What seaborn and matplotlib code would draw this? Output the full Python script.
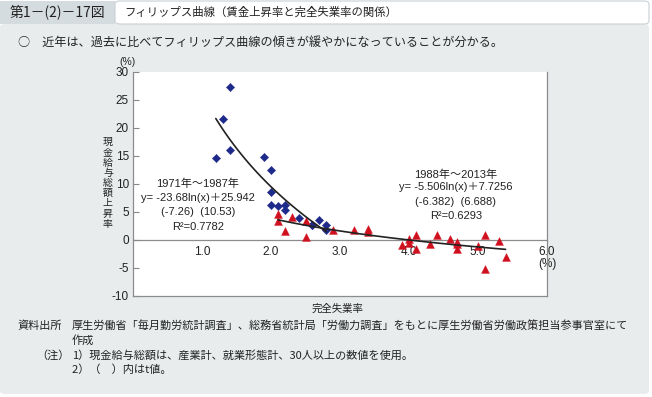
import numpy as np
import pandas as pd
import matplotlib
matplotlib.use("Agg")
import matplotlib.pyplot as plt
from matplotlib.patches import Rectangle, FancyBboxPatch
import seaborn as sns

# 1971年～1987年 : unemployment rate (%) / wage growth (%)
unemp_early = [1.2, 1.4, 1.3, 1.4, 1.9, 2.0, 2.0, 2.2, 2.1, 2.0, 2.2, 2.4, 2.6, 2.7, 2.6, 2.8, 2.8]
wage_early = [14.6, 16.0, 21.6, 27.3, 14.9, 12.5, 8.5, 6.3, 6.0, 6.3, 5.3, 4.0, 2.7, 3.6, 2.6, 2.7, 1.8]

# 1988年～2013年
unemp_late = [2.5, 2.3, 2.1, 2.1, 2.2, 2.5, 2.9, 3.2, 3.4, 3.4, 4.1, 4.7, 4.7,
              5.0, 5.4, 5.3, 4.7, 4.4, 4.1, 3.9, 4.0, 5.1, 5.1, 4.6, 4.3, 4.0]
wage_late = [3.45, 4.17, 4.7, 3.45, 1.66, 0.47, 1.7, 1.8, 2.0, 1.5, 0.95, -0.37, -0.8,
             -1.0, -3.1, -0.25, -1.56, 0.95, -1.56, -0.95, 0.17, 0.95, -5.1, 0.1, -0.66, -0.5]

x_ticks = [1.0, 2.0, 3.0, 4.0, 5.0, 6.0]
x_tick_labels = ["1.0", "2.0", "3.0", "4.0", "5.0", "6.0\n(%)"]
y_ticks = [-10, -5, 0, 5, 10, 15, 20, 25, 30]

early = pd.DataFrame({"unemp": unemp_early, "wage": wage_early})
late = pd.DataFrame({"unemp": unemp_late, "wage": wage_late})

sns.set_style("white")
plt.rcParams["font.family"] = ["Noto Sans CJK JP", "DejaVu Sans"]
num_font = ["Liberation Sans", "Noto Sans CJK JP"]

W, H = 652, 397
fig = plt.figure(figsize=(W / 100, H / 100), dpi=100)
fig.patch.set_facecolor("white")

def fx(px):
    return px / W

def fy(py):
    return 1 - py / H

# background panels
panel_col = "#e8eced"
fig.patches.append(FancyBboxPatch((0, fy(394)), fx(649), fy(24) - fy(394),
                                  boxstyle="round,pad=0,rounding_size=0.008",
                                  transform=fig.transFigure, facecolor=panel_col,
                                  edgecolor="none", zorder=-10))
fig.patches.append(Rectangle((0, fy(24)), fx(115), fy(1) - fy(24),
                             transform=fig.transFigure, facecolor="#d5dcdf",
                             edgecolor="none", zorder=-10))
fig.patches.append(FancyBboxPatch((fx(115), fy(24)), fx(534), fy(1) - fy(24),
                                  boxstyle="round,pad=0,rounding_size=0.008",
                                  transform=fig.transFigure, facecolor="white",
                                  edgecolor="#c9d0d3", lw=0.8, zorder=-10))

fig.text(fx(10), fy(12), "第1－(2)－17図", fontsize=10, va="center", ha="left",
         color="#222222")
fig.text(fx(124), fy(12), "フィリップス曲線（賃金上昇率と完全失業率の関係）", fontsize=8.2,
         va="center", ha="left", color="#222222")
fig.text(fx(18), fy(42), "○　近年は、過去に比べてフィリップス曲線の傾きが緩やかになっていることが分かる。",
         fontsize=8.7, va="center", ha="left", color="#222222")

# plot area
ax = fig.add_axes([fx(133), fy(296), fx(547 - 133), fy(72) - fy(296)])
ax.set_zorder(5)
ax.set_facecolor("white")

sns.scatterplot(data=early, x="unemp", y="wage", marker="D", s=18, color="#1e2a8a",
                edgecolor="#1e2a8a", linewidth=0.3, ax=ax, zorder=3)
sns.scatterplot(data=late, x="unemp", y="wage", marker="^", s=32, color="#d0101e",
                edgecolor="#d0101e", linewidth=0.3, ax=ax, zorder=3)
sns.regplot(data=early, x="unemp", y="wage", logx=True, ci=None, scatter=False,
            truncate=True, line_kws=dict(color="#222222", lw=1.2, zorder=4), ax=ax)
sns.regplot(data=late, x="unemp", y="wage", logx=True, ci=None, scatter=False,
            truncate=True, line_kws=dict(color="#222222", lw=1.2, zorder=4), ax=ax)

ax.set_xlim(0, 6)
ax.set_ylim(-10, 30)
ax.set_xticks([])
ax.set_yticks(y_ticks)
ax.set_yticklabels([str(v) for v in y_ticks], fontfamily=num_font, fontsize=8.5,
                   color="#222222")
ax.tick_params(axis="y", direction="in", length=4, width=0.8, color="#888888", pad=3,
               left=True)
ax.set_xlabel("")
ax.set_ylabel("")
for side in ["left", "bottom", "right"]:
    ax.spines[side].set_color("#8c8c8c")
    ax.spines[side].set_linewidth(0.9)
ax.spines["top"].set_visible(False)

# zero line carrying the x tick labels
sec = ax.secondary_xaxis(0.25)
sec.set_xticks(x_ticks)
sec.set_xticklabels(x_tick_labels, fontfamily=num_font, fontsize=8.5, color="#222222",
                    linespacing=1.1, va="top")
sec.tick_params(axis="x", length=0, pad=4)
for side in ["top", "bottom"]:
    sec.spines[side].set_color("#8c8c8c")
    sec.spines[side].set_linewidth(0.9)

# equations
eq_kw = dict(ha="center", va="center", fontsize=8, fontfamily=num_font, color="#222222")
ax.text(0.94, 10.1, "1971年～1987年", **eq_kw)
ax.text(0.94, 7.5, "y= -23.68ln(x)＋25.942", **eq_kw)
ax.text(0.94, 5.0, "(-7.26)  (10.53)", **eq_kw)
ax.text(0.94, 2.4, "R²=0.7782", **eq_kw)
ax.text(4.68, 11.7, "1988年～2013年", **eq_kw)
ax.text(4.68, 9.4, "y= -5.506ln(x)＋7.7256", **eq_kw)
ax.text(4.68, 6.8, "(-6.382)  (6.688)", **eq_kw)
ax.text(4.68, 4.25, "R²=0.6293", **eq_kw)

# axis titles
fig.text(fx(127), fy(62), "(%)", ha="center", va="center", fontsize=7.5,
         fontfamily=num_font, color="#222222")
fig.text(fx(108), fy(183), "\n".join("現金給与総額上昇率"), ha="center", va="center",
         fontsize=7.2, linespacing=1.02, color="#222222")
fig.text(fx(338), fy(309), "完全失業率", ha="center", va="center", fontsize=7.5,
         color="#222222")

# notes
note_fs = 8
fig.text(fx(18), fy(326), "資料出所", fontsize=note_fs, va="center", ha="left", color="#222222")
fig.text(fx(72), fy(326), "厚生労働省「毎月勤労統計調査」、総務省統計局「労働力調査」をもとに厚生労働省労働政策担当参事官室にて",
         fontsize=note_fs, va="center", ha="left", color="#222222")
fig.text(fx(72), fy(340), "作成", fontsize=note_fs, va="center", ha="left", color="#222222")
fig.text(fx(36), fy(355), "（注）", fontsize=note_fs, va="center", ha="left", color="#222222")
fig.text(fx(72), fy(355), "1）現金給与総額は、産業計、就業形態計、30人以上の数値を使用。",
         fontsize=note_fs, va="center", ha="left", color="#222222")
fig.text(fx(72), fy(370), "2）（　）内はt値。", fontsize=note_fs, va="center", ha="left",
         color="#222222")

fig.savefig("out.png", dpi=100)
